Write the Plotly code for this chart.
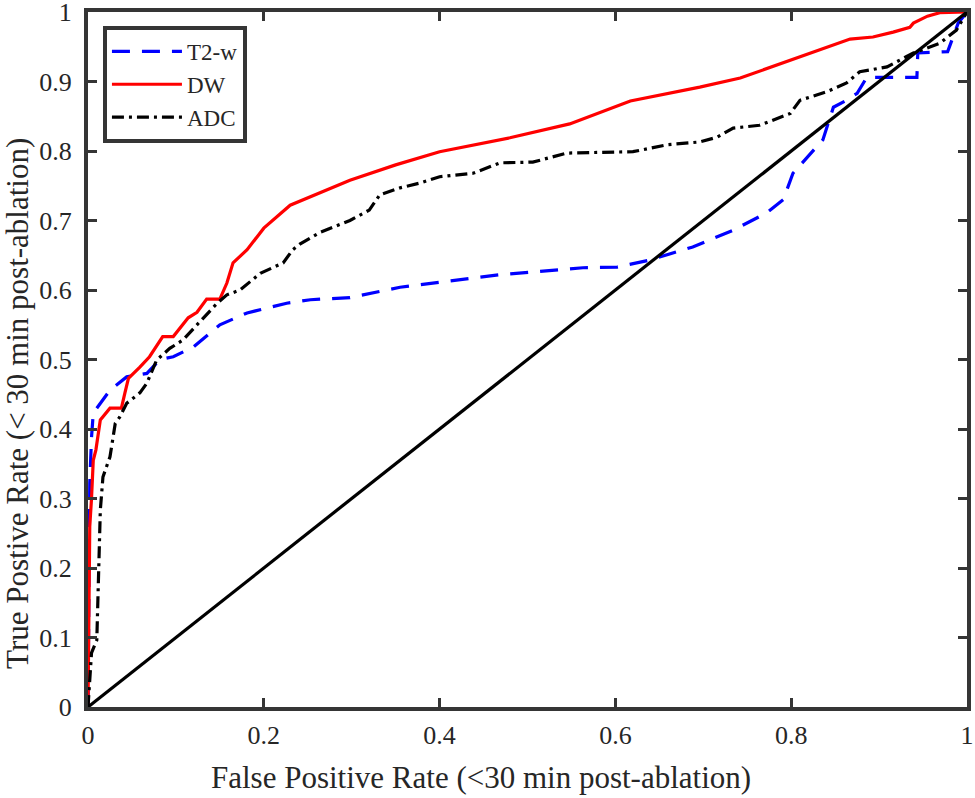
import plotly.graph_objects as go

# ---- data ----
dw_fpr = [0, 0.002, 0.004, 0.006, 0.009, 0.014, 0.025, 0.038, 0.042, 0.046, 0.059, 0.07, 0.085, 0.097,
          0.114, 0.124, 0.135, 0.15, 0.158, 0.165, 0.181, 0.2, 0.23, 0.298, 0.35, 0.4, 0.48, 0.548, 0.617,
          0.696, 0.742, 0.784, 0.829, 0.867, 0.893, 0.916, 0.935, 0.939, 0.955, 0.969, 1.0]
dw_tpr = [0, 0.26, 0.30, 0.355, 0.37, 0.413, 0.43, 0.43, 0.452, 0.473, 0.489, 0.504, 0.533, 0.533,
          0.56, 0.568, 0.587, 0.587, 0.61, 0.639, 0.658, 0.689, 0.722, 0.758, 0.78, 0.799, 0.819, 0.839, 0.872,
          0.892, 0.905, 0.924, 0.945, 0.961, 0.964, 0.971, 0.978, 0.984, 0.994, 0.999, 1.0]

t2w_fpr = [0, 0.002, 0.004, 0.006, 0.025, 0.044, 0.067, 0.082, 0.097, 0.12, 0.15, 0.181, 0.226, 0.253,
           0.298, 0.355, 0.469, 0.563, 0.602, 0.639, 0.688, 0.734, 0.772, 0.791, 0.802, 0.825, 0.836,
           0.848, 0.863, 0.875, 0.886, 0.943, 0.944, 0.978, 0.99, 1.0]
t2w_tpr = [0, 0.322, 0.388, 0.423, 0.456, 0.475, 0.48, 0.5, 0.504, 0.518, 0.55, 0.567, 0.581, 0.586,
           0.589, 0.604, 0.622, 0.632, 0.633, 0.643, 0.662, 0.686, 0.711, 0.73, 0.768, 0.801, 0.816,
           0.863, 0.873, 0.883, 0.906, 0.906, 0.941, 0.943, 0.984, 1.0]

adc_fpr = [0, 0.004, 0.01, 0.012, 0.014, 0.017, 0.025, 0.031, 0.036, 0.044, 0.059, 0.067, 0.078, 0.093,
           0.108, 0.127, 0.147, 0.158, 0.173, 0.196, 0.222, 0.233, 0.241, 0.264, 0.298, 0.32, 0.332, 0.355,
           0.378, 0.40, 0.438, 0.469, 0.506, 0.545, 0.62, 0.659, 0.696, 0.716, 0.734, 0.764, 0.799, 0.81,
           0.84, 0.863, 0.878, 0.909, 0.939, 0.969, 0.988, 1.0]
adc_tpr = [0, 0.078, 0.096, 0.178, 0.283, 0.331, 0.36, 0.408, 0.417, 0.437, 0.452, 0.466, 0.499, 0.516,
           0.528, 0.554, 0.581, 0.593, 0.6, 0.624, 0.639, 0.658, 0.666, 0.683, 0.70, 0.715, 0.737, 0.747,
           0.754, 0.763, 0.768, 0.783, 0.784, 0.797, 0.799, 0.809, 0.813, 0.82, 0.833, 0.837, 0.854, 0.873,
           0.885, 0.898, 0.914, 0.921, 0.941, 0.955, 0.974, 1.0]

diag = [0, 1]

x_ticks = [0, 0.2, 0.4, 0.6, 0.8, 1]
x_labels = ["0", "0.2", "0.4", "0.6", "0.8", "1"]
y_ticks = [0, 0.1, 0.2, 0.3, 0.4, 0.5, 0.6, 0.7, 0.8, 0.9, 1]
y_labels = ["0", "0.1", "0.2", "0.3", "0.4", "0.5", "0.6", "0.7", "0.8", "0.9", "1"]

FONT = "Liberation Serif, Times New Roman, serif"
AX = "#353535"

fig = go.Figure()
fig.add_trace(go.Scatter(x=t2w_fpr, y=t2w_tpr, mode="lines", name="T2-w",
                         line=dict(color="#0000ff", width=3.2, dash="18px,12px")))
fig.add_trace(go.Scatter(x=dw_fpr, y=dw_tpr, mode="lines", name="DW",
                         line=dict(color="#ff0000", width=3.2)))
fig.add_trace(go.Scatter(x=adc_fpr, y=adc_tpr, mode="lines", name="ADC",
                         line=dict(color="#000000", width=3.2, dash="12px,5px,3px,5px")))
fig.add_trace(go.Scatter(x=diag, y=diag, mode="lines", showlegend=False,
                         line=dict(color="#000000", width=3.2)))

axis_common = dict(range=[0, 1], showgrid=False, zeroline=False, showline=True, linewidth=4,
                   linecolor=AX, mirror="ticks", ticks="inside", ticklen=9, tickwidth=3, tickcolor=AX,
                   automargin=False, ticklabeloverflow="allow",
                   tickfont=dict(family=FONT, size=26, color="#262626"))

fig.update_xaxes(tickvals=x_ticks, ticktext=x_labels, ticklabelstandoff=2, **axis_common)
fig.update_yaxes(tickvals=y_ticks, ticktext=y_labels, ticklabelstandoff=7, **axis_common)

fig.add_annotation(text="False Positive Rate (<30 min post-ablation)", xref="paper", yref="paper",
                   x=0.447, y=-0.102, xanchor="center", yanchor="middle", showarrow=False,
                   font=dict(family=FONT, size=31, color="#262626"))
fig.add_annotation(text="True Postive Rate (< 30 min post-ablation)", xref="paper", yref="paper",
                   x=-0.08, y=0.437, xanchor="center", yanchor="middle", textangle=-90, showarrow=False,
                   font=dict(family=FONT, size=31, color="#262626"))

fig.update_layout(
    width=975, height=798,
    margin=dict(l=88, r=8, t=12, b=91, autoexpand=False),
    plot_bgcolor="white", paper_bgcolor="white",
    showlegend=True,
    legend=dict(x=0.017, y=0.98, xanchor="left", yanchor="top", bgcolor="white",
                bordercolor=AX, borderwidth=4, font=dict(family=FONT, size=23, color="#262626"),
                itemwidth=70, tracegroupgap=0),
)

# remove the browser's default 8px page margin so the figure fills the window
fig.write_html("out.html", config={"displayModeBar": False},
               post_script="document.body.style.margin='0';")
